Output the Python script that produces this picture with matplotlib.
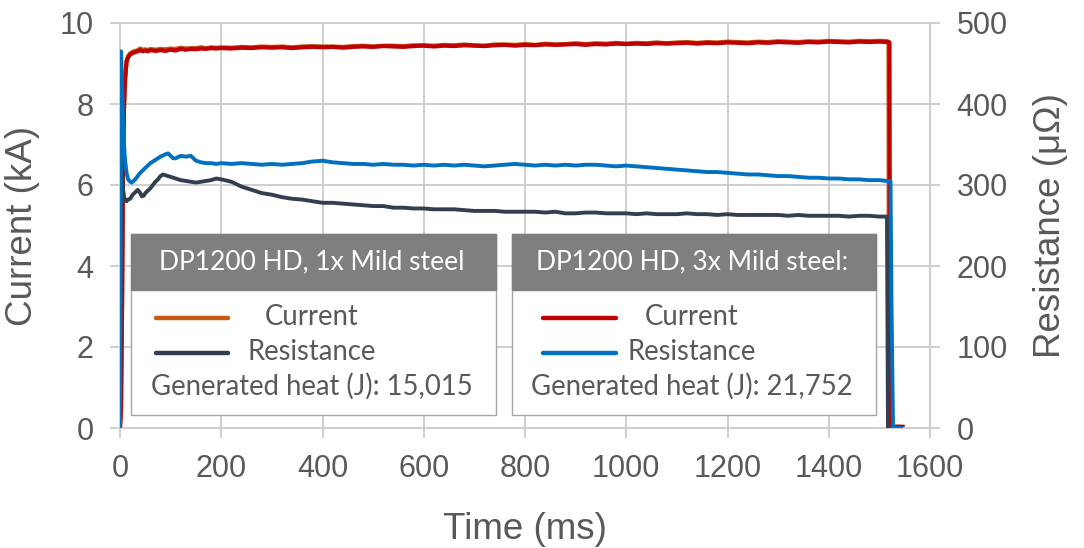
import matplotlib
matplotlib.use("Agg")
import matplotlib.pyplot as plt
from matplotlib.patches import Rectangle
from matplotlib.lines import Line2D

# ---------------- data ----------------
t_mid = list(range(200, 1501, 20))  # ms, sampling grid of the steady part

# Current, 3x mild steel (kA)
t_cur3_start = [0, 2, 4, 6, 8, 10, 13, 16, 20, 25, 30, 35, 40, 45, 50, 55, 60, 70, 80, 90,
                100, 110, 120, 130, 140, 150, 160, 170, 180, 190]
cur3_start = [0.0, 0.5, 3.0, 6.5, 8.0, 8.6, 9.05, 9.15, 9.22, 9.26, 9.28, 9.30, 9.33, 9.30, 9.32,
              9.30, 9.33, 9.31, 9.33, 9.31, 9.34, 9.32, 9.36, 9.34, 9.36, 9.35, 9.37, 9.36, 9.38, 9.37]
cur3_mid = [9.38, 9.37, 9.39, 9.38, 9.40, 9.39, 9.40, 9.38, 9.40, 9.41, 9.40, 9.41, 9.39, 9.41,
            9.42, 9.41, 9.43, 9.42, 9.41, 9.43, 9.44, 9.42, 9.44, 9.43, 9.45, 9.44, 9.43, 9.45,
            9.46, 9.44, 9.46, 9.45, 9.47, 9.46, 9.47, 9.48, 9.46, 9.48, 9.47, 9.49, 9.48, 9.49,
            9.48, 9.50, 9.49, 9.50, 9.51, 9.49, 9.51, 9.50, 9.52, 9.51, 9.50, 9.52, 9.51, 9.53,
            9.52, 9.51, 9.53, 9.52, 9.54, 9.53, 9.52, 9.54, 9.53, 9.54]
t_cur3_end = [1515, 1520, 1521, 1546]
cur3_end = [9.53, 9.52, 0.03, 0.03]

# Current, 1x mild steel (kA)
t_cur1_start = [0, 2, 4, 6, 8, 10, 13, 16, 20, 25, 30, 35, 40, 45, 50, 55, 60, 70, 80, 90,
                100, 110, 120, 130, 140, 150, 160, 170, 180, 190]
cur1_start = [0.0, 0.4, 2.8, 6.3, 7.9, 8.6, 9.05, 9.18, 9.25, 9.29, 9.31, 9.33, 9.37, 9.34, 9.35,
              9.33, 9.36, 9.34, 9.36, 9.35, 9.37, 9.36, 9.39, 9.37, 9.38, 9.38, 9.40, 9.38, 9.40, 9.39]
cur1_mid = [9.40, 9.39, 9.41, 9.40, 9.42, 9.41, 9.42, 9.40, 9.42, 9.43, 9.42, 9.42, 9.41, 9.43,
            9.44, 9.42, 9.44, 9.44, 9.43, 9.45, 9.45, 9.44, 9.46, 9.45, 9.47, 9.45, 9.44, 9.47,
            9.47, 9.46, 9.48, 9.46, 9.49, 9.47, 9.48, 9.50, 9.48, 9.50, 9.49, 9.51, 9.49, 9.51,
            9.50, 9.52, 9.50, 9.52, 9.53, 9.51, 9.53, 9.52, 9.54, 9.53, 9.52, 9.54, 9.53, 9.55,
            9.54, 9.53, 9.55, 9.54, 9.56, 9.55, 9.54, 9.56, 9.55, 9.56]
t_cur1_end = [1515, 1518, 1519, 1540]
cur1_end = [9.55, 9.54, 0.03, 0.03]

# Resistance, 3x mild steel (micro-ohm)
t_res3_start = [0, 2, 4, 6, 8, 10, 13, 16, 20, 23, 27, 30, 35, 40, 45, 50, 55, 60, 70, 80,
                90, 95, 100, 105, 110, 120, 130, 140, 150, 160, 170, 180, 190]
res3_start = [0, 465, 430, 380, 350, 330, 315, 307, 304, 303, 305, 307, 311, 315, 318, 321, 324,
              327, 331, 335, 338, 339, 336, 333, 333, 336, 335, 336, 330, 328, 327, 327, 326]
res3_mid = [327, 326, 327, 326, 325, 326, 325, 326, 327, 329, 330, 328, 327, 326, 326, 325, 326,
            325, 325, 324, 325, 324, 325, 324, 325, 324, 323, 324, 325, 326, 325, 324, 325, 324,
            325, 324, 325, 325, 324, 323, 324, 323, 322, 321, 320, 319, 318, 317, 316, 316, 315,
            314, 313, 313, 312, 311, 311, 310, 309, 309, 308, 308, 307, 307, 306, 306]
t_res3_end = [1515, 1522, 1524, 1527, 1543]
res3_end = [305, 305, 150, 0, 0]

# Resistance, 1x mild steel (micro-ohm)
t_res1_start = [0, 2, 4, 6, 8, 10, 13, 16, 20, 25, 30, 35, 40, 43, 47, 50, 55, 60, 65, 70, 75,
                80, 85, 90, 100, 110, 120, 130, 140, 150, 160, 170, 180, 190]
res1_start = [0, 350, 320, 295, 285, 281, 280, 282, 283, 288, 291, 294, 290, 286, 287, 290, 293,
              296, 300, 304, 307, 311, 313, 312, 310, 308, 306, 305, 304, 303, 304, 305, 306, 308]
res1_mid = [307, 304, 298, 294, 290, 288, 285, 283, 282, 280, 278, 278, 277, 276, 275, 274, 274,
            272, 272, 271, 271, 270, 270, 270, 269, 268, 268, 268, 267, 267, 267, 267, 266, 267,
            265, 265, 266, 266, 265, 265, 265, 264, 265, 264, 264, 264, 265, 264, 264, 263, 264,
            263, 263, 263, 263, 263, 262, 263, 262, 262, 262, 262, 261, 262, 262, 261]
t_res1_end = [1515, 1517, 1530]
res1_end = [261, 0, 0]

x_ticks = [0, 200, 400, 600, 800, 1000, 1200, 1400, 1600]
y_ticks_cur = [0, 2, 4, 6, 8, 10]
y_ticks_res = [0, 100, 200, 300, 400, 500]

legend1_title = "DP1200 HD, 1x Mild steel"
legend2_title = "DP1200 HD, 3x Mild steel:"
heat1 = "Generated heat (J): 15,015"
heat2 = "Generated heat (J): 21,752"

# ---------------- styling ----------------
C_ORANGE = "#C55A11"
C_RED = "#C00000"
C_NAVY = "#333F50"
C_BLUE = "#0070C0"
C_GRID = "#CFCFCF"
C_TEXT = "#595959"

plt.rcParams["font.family"] = ["Liberation Sans", "DejaVu Sans"]

W, H = 1084, 548
fig = plt.figure(figsize=(W / 100, H / 100), dpi=100)


def fx(px):
    return px / W


def fy(py):
    return 1 - py / H


ax = fig.add_axes([fx(120), fy(428), (930 - 120) / W, (428 - 23) / H])
ax2 = ax.twinx()

ax.plot(t_cur1_start + t_mid + t_cur1_end, cur1_start + cur1_mid + cur1_end,
        color=C_ORANGE, lw=3.0, zorder=3, solid_joinstyle="round")
ax.plot(t_cur3_start + t_mid + t_cur3_end, cur3_start + cur3_mid + cur3_end,
        color=C_RED, lw=3.0, zorder=4, solid_joinstyle="round")
ax2.plot(t_res1_start + t_mid + t_res1_end, res1_start + res1_mid + res1_end,
         color=C_NAVY, lw=2.8, zorder=3, solid_joinstyle="round")
ax2.plot(t_res3_start + t_mid + t_res3_end, res3_start + res3_mid + res3_end,
         color=C_BLUE, lw=2.8, zorder=4, solid_joinstyle="round")

ax.set_xlim(0, 1600)
ax.set_ylim(0, 10)
ax2.set_ylim(0, 500)
ax.set_xticks(x_ticks)
ax.set_yticks(y_ticks_cur)
ax2.set_yticks(y_ticks_res)

ax.grid(True, color=C_GRID, lw=1.4, zorder=0)
ax.set_axisbelow(True)
for a in (ax, ax2):
    for s in a.spines.values():
        s.set_color(C_GRID)
        s.set_linewidth(1.4)
    a.tick_params(axis="both", colors=C_GRID, labelcolor=C_TEXT, labelsize=22,
                  length=7, width=1.4, pad=12, direction="out")

ax.set_xlabel("Time (ms)", fontsize=26.5, color=C_TEXT, labelpad=20)
ax.set_ylabel("Current (kA)", fontsize=26.5, color=C_TEXT, labelpad=14)
ax2.set_ylabel("Resistance (μΩ)", fontsize=26.5, color=C_TEXT, labelpad=18)

# ---------------- legend boxes ----------------
LEG_FONT = ["Lato", "DejaVu Sans"]
HEAD_SIZE = 19
BODY_SIZE = 19.8


def legend_box(x0, x1, title, c_cur, c_res, heat, line_x0, line_x1, text_cx):
    y0, yh, y1 = 234, 290, 415
    fig.patches.append(Rectangle((fx(x0), fy(y1)), fx(x1) - fx(x0), fy(y0) - fy(y1),
                                 transform=fig.transFigure, facecolor="white",
                                 edgecolor="#A6A6A6", lw=1.0, zorder=5))
    fig.patches.append(Rectangle((fx(x0), fy(yh)), fx(x1) - fx(x0), fy(y0) - fy(yh),
                                 transform=fig.transFigure, facecolor="#7F7F7F",
                                 edgecolor="#7F7F7F", lw=1.0, zorder=6))
    fig.text(fx(text_cx), fy(262), title, color="white", fontsize=HEAD_SIZE, family=LEG_FONT,
             ha="center", va="center", zorder=7)
    fig.lines.append(Line2D([fx(line_x0), fx(line_x1)], [fy(318), fy(318)],
                            transform=fig.transFigure, color=c_cur, lw=3.2,
                            solid_capstyle="round", zorder=7))
    fig.lines.append(Line2D([fx(line_x0), fx(line_x1)], [fy(353), fy(353)],
                            transform=fig.transFigure, color=c_res, lw=3.2,
                            solid_capstyle="round", zorder=7))
    fig.text(fx(text_cx), fy(317), "Current", color=C_TEXT, fontsize=BODY_SIZE,
             family=LEG_FONT, ha="center", va="center", zorder=7)
    fig.text(fx(text_cx), fy(352), "Resistance", color=C_TEXT, fontsize=BODY_SIZE,
             family=LEG_FONT, ha="center", va="center", zorder=7)
    fig.text(fx(text_cx), fy(386), heat, color=C_TEXT, fontsize=BODY_SIZE, family=LEG_FONT,
             ha="center", va="center", zorder=7)


legend_box(131, 496, legend1_title, C_ORANGE, C_NAVY, heat1, 156, 228, 312)
legend_box(512, 876, legend2_title, C_RED, C_BLUE, heat2, 543, 616, 692)

fig.savefig("out.png", dpi=100, facecolor="white")
